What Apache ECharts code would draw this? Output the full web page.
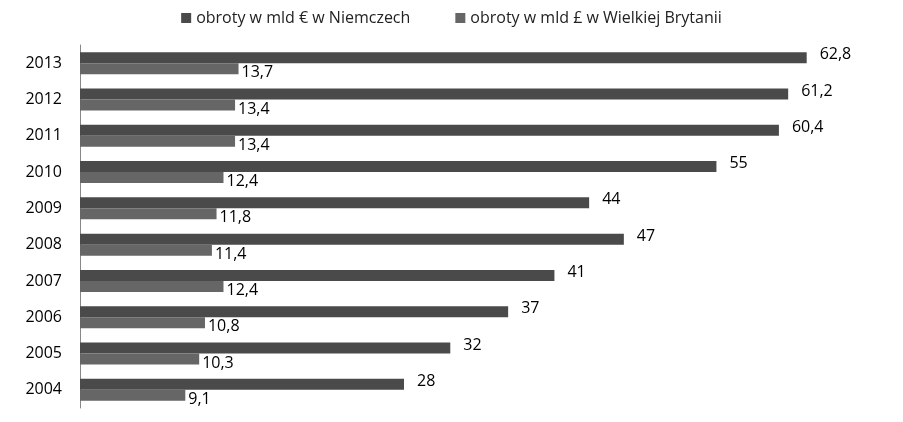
<!DOCTYPE html>
<html><head><meta charset="utf-8">
<script src="https://cdn.jsdelivr.net/npm/echarts@6/dist/echarts.min.js"></script>
<style>html,body{margin:0;padding:0;background:#fff}#c{width:903px;height:422px}</style>
</head><body><div id="c"></div>
<script>
const years = ['2004','2005','2006','2007','2008','2009','2010','2011','2012','2013'];
const germany = [28,32,37,41,47,44,55,60.4,61.2,62.8];
const uk = [9.1,10.3,10.8,12.4,11.4,11.8,12.4,13.4,13.4,13.7];
const nameDE = 'obroty w mld € w Niemczech';
const nameUK = 'obroty w mld £ w Wielkiej Brytanii';
const fmt = p => String(p.value).replace('.', ',');
const font = 'Open Sans';
const chart = echarts.init(document.getElementById('c'));
chart.setOption({
  animation:false,
  textStyle:{fontFamily:font},
  legend:{data:[nameDE,nameUK],top:5,left:'center',itemWidth:10,itemHeight:10,itemGap:45,icon:'rect',
    textStyle:{fontSize:16,color:'#222',fontFamily:font}},
  grid:{left:80,right:13,top:45,bottom:14},
  xAxis:{type:'value',min:0,max:70,show:false},
  yAxis:{type:'category',data:years,axisTick:{show:false},
    axisLine:{lineStyle:{color:'#888'}},
    axisLabel:{fontSize:16,color:'#000',margin:18,fontFamily:font}},
  series:[
    {name:nameDE,type:'bar',data:germany,barWidth:11,barGap:'0%',
      itemStyle:{color:'#4a4a4a'},
      label:{show:true,position:'right',formatter:fmt,fontSize:16,color:'#000',offset:[8,-3],fontFamily:font}},
    {name:nameUK,type:'bar',data:uk,barWidth:11,
      itemStyle:{color:'#666666'},
      label:{show:true,position:'right',formatter:fmt,fontSize:16,color:'#000',offset:[-2,4],fontFamily:font}}
  ]
});
</script></body></html>
